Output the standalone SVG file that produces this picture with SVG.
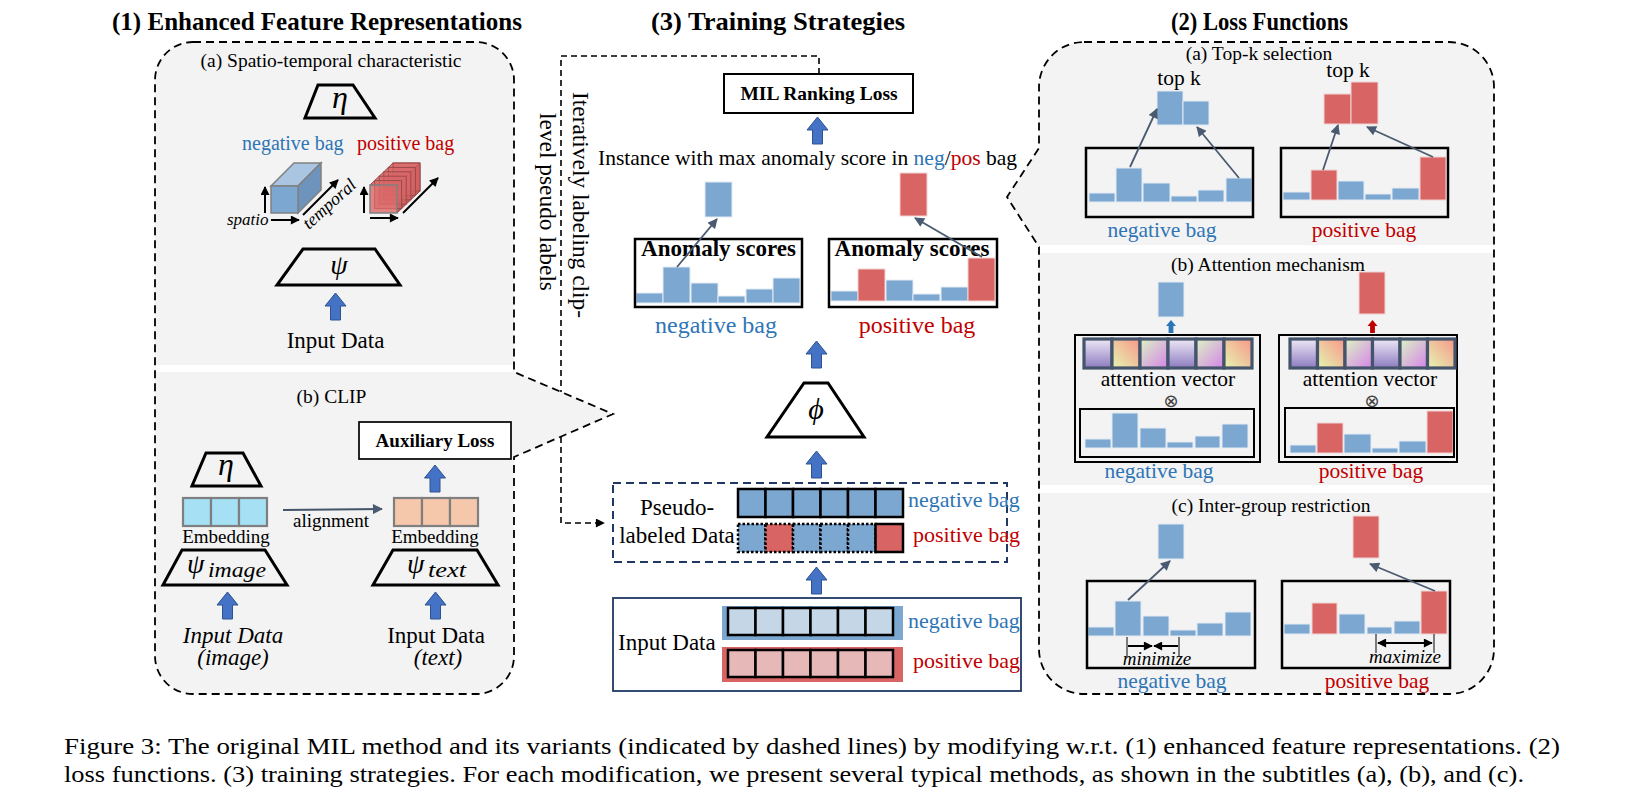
<svg xmlns="http://www.w3.org/2000/svg" width="1626" height="801" viewBox="0 0 1626 801">
<defs>
<style>
text{font-family:'Liberation Serif','Times New Roman','DejaVu Serif',serif;fill:#000}
.b{font-weight:bold}
.i{font-style:italic}
.neg{fill:#2e75b6}
.pos{fill:#c00000}
.bb{fill:#7ba7d0;stroke:#e3ebf4;stroke-width:1}
.br{fill:#d96464;stroke:#f2d4d4;stroke-width:1}
.box{fill:none;stroke:#000;stroke-width:2.5}
.trap{fill:none;stroke:#000;stroke-width:3}
.panel{fill:#f3f3f3}
.dash{fill:none;stroke:#000;stroke-width:1.8;stroke-dasharray:8 5}
.sep{fill:#fff}
.thin{stroke:#4a5a70;stroke-width:1.8;fill:none}
.ax{stroke:#000;stroke-width:2;fill:none}
.att{stroke:#44546a;stroke-width:3.2}
.cell{stroke:#000;stroke-width:2.5}
.emb{stroke:#7f7f7f;stroke-width:2.2}
.sub{font-size:19.5px}
.otimes{font-family:'DejaVu Sans',sans-serif;fill:#404040}
</style>
<marker id="as" viewBox="0 0 10 10" refX="9" refY="5" markerWidth="11" markerHeight="10" markerUnits="userSpaceOnUse" orient="auto"><path d="M0,0 L10,5 L0,10 z" fill="#4a5a70"/></marker>
<marker id="ak" viewBox="0 0 10 10" refX="9" refY="5" markerWidth="10" markerHeight="9" markerUnits="userSpaceOnUse" orient="auto"><path d="M0,0 L10,5 L0,10 z" fill="#000"/></marker>
<marker id="ak2" viewBox="0 0 10 10" refX="1" refY="5" markerWidth="10" markerHeight="9" markerUnits="userSpaceOnUse" orient="auto"><path d="M10,0 L0,5 L10,10 z" fill="#000"/></marker>
<path id="up" d="M0,0 L10.5,13 L5,13 L5,27 L-5,27 L-5,13 L-10.5,13 Z" fill="#4472c4" stroke="#2f528f" stroke-width="1"/>
<linearGradient id="gPur" x1="0" y1="0" x2="0" y2="1"><stop offset="0" stop-color="#eee8f6"/><stop offset="1" stop-color="#8d7cc0"/></linearGradient>
<linearGradient id="gPea" x1="0" y1="1" x2="1" y2="0"><stop offset="0" stop-color="#e4f6b0"/><stop offset="1" stop-color="#f8968a"/></linearGradient>
<linearGradient id="gMag" x1="0" y1="0" x2="1" y2="1"><stop offset="0" stop-color="#dcf4c4"/><stop offset="1" stop-color="#d584e8"/></linearGradient>
</defs>
<rect width="1626" height="801" fill="#fff"/>

<!-- titles -->
<g id="titles">
<text class="b" x="112" y="30" font-size="25" textLength="410" lengthAdjust="spacingAndGlyphs">(1) Enhanced Feature Representations</text>
<text class="b" x="651" y="30" font-size="25" textLength="254" lengthAdjust="spacingAndGlyphs">(3) Training Strategies</text>
<text class="b" x="1171" y="30" font-size="25" textLength="177" lengthAdjust="spacingAndGlyphs">(2) Loss Functions</text>
</g>

<!-- left panel -->
<g id="panel-feature">
<path class="panel" d="M193,42 H476 A38,38 0 0 1 514,80 V372 L613,414 L514,457 V656 A38,38 0 0 1 476,694 H193 A38,38 0 0 1 155,656 V80 A38,38 0 0 1 193,42 Z"/>
<rect class="sep" x="156" y="365" width="357" height="7"/>
<path class="dash" d="M193,42 H476 A38,38 0 0 1 514,80 V372 L613,414 L514,457 V656 A38,38 0 0 1 476,694 H193 A38,38 0 0 1 155,656 V80 A38,38 0 0 1 193,42 Z"/>
</g>

<!-- right panel -->
<g id="panel-loss">
<path class="panel" d="M1084,42 H1449 A45,45 0 0 1 1494,87 V649 A45,45 0 0 1 1449,694 H1084 A45,45 0 0 1 1039,649 V247 L1007,197 L1039,148 V87 A45,45 0 0 1 1084,42 Z"/>
<rect class="sep" x="1040" y="245" width="453" height="8"/>
<rect class="sep" x="1040" y="485" width="453" height="8"/>
<path class="dash" d="M1084,42 H1449 A45,45 0 0 1 1494,87 V649 A45,45 0 0 1 1449,694 H1084 A45,45 0 0 1 1039,649 V247 L1007,197 L1039,148 V87 A45,45 0 0 1 1084,42 Z"/>
</g>

<!-- (a) spatio-temporal -->
<g id="spatio-temporal">
<text class="sub" x="331" y="67" text-anchor="middle">(a) Spatio-temporal characteristic</text>
<polygon class="trap" points="318,85 353,85 375,118 305,118"/>
<text class="i" x="340" y="108" font-size="32" text-anchor="middle">η</text>
<text class="neg" x="242" y="150" font-size="20">negative bag</text>
<text class="pos" x="357" y="150" font-size="20">positive bag</text>
<g stroke="#808080" stroke-width="1.5">
<polygon points="271,186 298,186 321,163 294,163" fill="#a9c5e2"/>
<polygon points="298,186 321,163 321,190 298,213" fill="#6e93bd"/>
<rect x="271" y="186" width="27" height="27" fill="#7ba7d0"/>
</g>
<g stroke="#9a4a4a" stroke-width="1">
<polygon points="370,185 397,185 420,163 393,163" fill="#e07a7a"/>
<polygon points="397,185 420,163 420,191 397,213" fill="#c85858"/>
<rect x="393" y="163" width="27" height="28" fill="#d96666" fill-opacity="0.6"/>
<rect x="388.4" y="167.4" width="27" height="28" fill="#d96666" fill-opacity="0.6"/>
<rect x="383.8" y="171.8" width="27" height="28" fill="#d96666" fill-opacity="0.6"/>
<rect x="379.2" y="176.2" width="27" height="28" fill="#d96666" fill-opacity="0.6"/>
<rect x="374.6" y="180.6" width="27" height="28" fill="#d96666" fill-opacity="0.6"/>
<rect x="370" y="185" width="27" height="28" fill="#d96666" fill-opacity="0.8" stroke="#808080" stroke-width="1.5"/>
</g>
<line class="ax" x1="265" y1="213" x2="265" y2="187" marker-end="url(#ak)"/>
<line class="ax" x1="271" y1="220" x2="299" y2="220" marker-end="url(#ak)"/>
<line class="ax" x1="303" y1="215" x2="338" y2="180" marker-end="url(#ak)"/>
<line class="ax" x1="364" y1="213" x2="364" y2="187" marker-end="url(#ak)"/>
<line class="ax" x1="370" y1="218" x2="398" y2="218" marker-end="url(#ak)"/>
<line class="ax" x1="403" y1="213" x2="438" y2="178" marker-end="url(#ak)"/>
<text class="i" x="227" y="225" font-size="17">spatio</text>
<text class="i" x="309" y="230" font-size="18" transform="rotate(-42 309 230)">temporal</text>
<polygon class="trap" points="303,249 375,249 400,285 277,285"/>
<text class="i" x="339" y="274" font-size="28" text-anchor="middle">ψ</text>
<text x="335.5" y="348" font-size="23" text-anchor="middle">Input Data</text>
</g>

<!-- (b) CLIP -->
<g id="clip">
<text class="sub" x="331.5" y="403" text-anchor="middle">(b) CLIP</text>
<polygon class="trap" points="206,453 243,453 261,486 192,486"/>
<text class="i" x="226" y="475" font-size="32" text-anchor="middle">η</text>
<g class="emb" fill="#a6e0f4">
<rect x="183" y="498" width="28" height="28"/><rect x="211" y="498" width="28" height="28"/><rect x="239" y="498" width="28" height="28"/>
</g>
<text x="226" y="543" font-size="19" text-anchor="middle">Embedding</text>
<polygon class="trap" points="182,550 265,550 287,585 163,585"/>
<text class="i" x="187" y="573" font-size="28">ψ</text>
<text class="i" x="208" y="577" font-size="22" textLength="58" lengthAdjust="spacingAndGlyphs">image</text>
<text class="i" x="233" y="643" font-size="23" text-anchor="middle">Input Data</text>
<text class="i" x="233" y="665" font-size="23" text-anchor="middle">(image)</text>
<text x="331" y="527" font-size="19" text-anchor="middle">alignment</text>
<g class="emb" fill="#f6c8ab">
<rect x="394" y="498" width="28" height="28"/><rect x="422" y="498" width="28" height="28"/><rect x="450" y="498" width="28" height="28"/>
</g>
<text x="435" y="543" font-size="19" text-anchor="middle">Embedding</text>
<polygon class="trap" points="393,550 477,550 498,585 373,585"/>
<text class="i" x="407" y="573" font-size="28">ψ</text>
<text class="i" x="428" y="577" font-size="22" textLength="38" lengthAdjust="spacingAndGlyphs">text</text>
<text x="436" y="643" font-size="23" text-anchor="middle">Input Data</text>
<text class="i" x="438" y="665" font-size="23" text-anchor="middle">(text)</text>
</g>

<g id="aux-loss">
<rect x="359" y="422" width="152" height="37" fill="#fff" stroke="#000" stroke-width="1.7"/>
<text class="b" x="435" y="447" font-size="19" text-anchor="middle">Auxiliary Loss</text>
</g>

<!-- middle -->
<g id="feedback-label">
<text font-size="23.4" transform="translate(573,92) rotate(90)">Iteratively labeling clip-</text>
<text font-size="23.4" transform="translate(540,113) rotate(90)">level pseudo labels</text>
</g>

<g id="mil-loss">
<rect x="724" y="74" width="189" height="39" fill="#fff" stroke="#000" stroke-width="2"/>
<text class="b" x="819" y="100" font-size="19.5" text-anchor="middle">MIL Ranking Loss</text>
</g>

<g id="instance-max">
<text x="598" y="165" font-size="21.5" textLength="419" lengthAdjust="spacingAndGlyphs">Instance with max anomaly score in <tspan class="neg">neg</tspan>/<tspan class="pos">pos</tspan> bag</text>
<rect class="bb" x="705" y="182" width="27" height="35"/>
<rect class="br" x="900" y="173" width="27" height="43"/>
</g>

<g id="anomaly-neg">
<rect class="bb" x="636" y="293" width="27" height="10"/>
<rect class="bb" x="663" y="267" width="27" height="36"/>
<rect class="bb" x="691" y="283" width="27" height="20"/>
<rect class="bb" x="718" y="296" width="27" height="7"/>
<rect class="bb" x="746" y="289" width="27" height="14"/>
<rect class="bb" x="773" y="278" width="27" height="25"/>
<rect class="box" x="635" y="239" width="167" height="68"/>
<text class="b" x="718.5" y="256" font-size="23" text-anchor="middle">Anomaly scores</text>
<text class="neg" x="716" y="333" font-size="24" text-anchor="middle">negative bag</text>
</g>

<g id="anomaly-pos">
<rect class="bb" x="831" y="291" width="27" height="10"/>
<rect class="br" x="858" y="269" width="27" height="32"/>
<rect class="bb" x="886" y="280" width="27" height="21"/>
<rect class="bb" x="913" y="294" width="27" height="7"/>
<rect class="bb" x="941" y="287" width="27" height="14"/>
<rect class="br" x="968" y="258" width="27" height="43"/>
<rect class="box" x="829" y="239" width="168" height="68"/>
<text class="b" x="912" y="256" font-size="23" text-anchor="middle">Anomaly scores</text>
<text class="pos" x="917" y="333" font-size="24" text-anchor="middle">positive bag</text>
</g>

<g id="phi">
<polygon class="trap" points="804,383 828,383 864,437 767,437"/>
<text class="i" x="816" y="419" font-size="30" text-anchor="middle">ϕ</text>
</g>

<g id="pseudo-labeled">
<rect x="613" y="483" width="394" height="79" fill="none" stroke="#1f3864" stroke-width="2" stroke-dasharray="8 5"/>
<text x="677" y="515" font-size="23" text-anchor="middle">Pseudo-</text>
<text x="677" y="543" font-size="23" text-anchor="middle">labeled Data</text>
<g class="cell" fill="#7ba7d0">
<rect x="738" y="489" width="27.5" height="28"/><rect x="765.5" y="489" width="27.5" height="28"/><rect x="793" y="489" width="27.5" height="28"/><rect x="820.5" y="489" width="27.5" height="28"/><rect x="848" y="489" width="27.5" height="28"/><rect x="875.5" y="489" width="27.5" height="28"/>
</g>
<g class="cell" stroke-dasharray="2.5 2">
<rect x="738" y="524" width="27.5" height="28" fill="#7ba7d0"/><rect x="765.5" y="524" width="27.5" height="28" fill="#d96464"/><rect x="793" y="524" width="27.5" height="28" fill="#7ba7d0"/><rect x="820.5" y="524" width="27.5" height="28" fill="#7ba7d0"/><rect x="848" y="524" width="27.5" height="28" fill="#7ba7d0"/>
</g>
<rect class="cell" x="875.5" y="524" width="27.5" height="28" fill="#d96464"/>
<text class="neg" x="908" y="507" font-size="22">negative bag</text>
<text class="pos" x="913" y="542" font-size="22">positive bag</text>
</g>

<g id="input-data">
<rect x="613" y="598" width="408" height="93" fill="none" stroke="#1f3864" stroke-width="1.8"/>
<text x="618" y="650" font-size="23">Input Data</text>
<rect x="722" y="606" width="181" height="34" fill="#7ba7d0"/>
<rect x="722" y="647" width="181" height="35" fill="#d96464"/>
<g class="cell" fill="#c5d6e7">
<rect x="728" y="608" width="27.5" height="27"/><rect x="755.5" y="608" width="27.5" height="27"/><rect x="783" y="608" width="27.5" height="27"/><rect x="810.5" y="608" width="27.5" height="27"/><rect x="838" y="608" width="27.5" height="27"/><rect x="865.5" y="608" width="27.5" height="27"/>
</g>
<g class="cell" fill="#e6b8b8">
<rect x="728" y="650" width="27.5" height="27"/><rect x="755.5" y="650" width="27.5" height="27"/><rect x="783" y="650" width="27.5" height="27"/><rect x="810.5" y="650" width="27.5" height="27"/><rect x="838" y="650" width="27.5" height="27"/><rect x="865.5" y="650" width="27.5" height="27"/>
</g>
<text class="neg" x="908" y="628" font-size="22">negative bag</text>
<text class="pos" x="913" y="668" font-size="22">positive bag</text>
</g>

<!-- (a) top-k -->
<g id="topk">
<text class="sub" x="1259" y="60" text-anchor="middle">(a) Top-k selection</text>
<text x="1179" y="85" font-size="21.5" text-anchor="middle">top k</text>
<text x="1348" y="77" font-size="21.5" text-anchor="middle">top k</text>
<rect class="bb" x="1157" y="91" width="26" height="34"/>
<rect class="bb" x="1183" y="101" width="26" height="24"/>
<rect class="br" x="1324" y="94" width="27" height="30"/>
<rect class="br" x="1351" y="82" width="27" height="42"/>
<rect class="bb" x="1089" y="193" width="26" height="9"/>
<rect class="bb" x="1116" y="168" width="26" height="34"/>
<rect class="bb" x="1143" y="183" width="27" height="19"/>
<rect class="bb" x="1171" y="196" width="26" height="6"/>
<rect class="bb" x="1198" y="190" width="26" height="12"/>
<rect class="bb" x="1226" y="178" width="26" height="24"/>
<rect class="box" x="1086" y="148" width="167" height="69"/>
<rect class="bb" x="1283" y="192" width="27" height="8"/>
<rect class="br" x="1311" y="170" width="26" height="30"/>
<rect class="bb" x="1338" y="181" width="26" height="19"/>
<rect class="bb" x="1365" y="194" width="26" height="6"/>
<rect class="bb" x="1392" y="188" width="27" height="12"/>
<rect class="br" x="1420" y="157" width="26" height="43"/>
<rect class="box" x="1281" y="148" width="167" height="69"/>
<text class="neg" x="1162" y="237" font-size="21.5" text-anchor="middle">negative bag</text>
<text class="pos" x="1364" y="237" font-size="21.5" text-anchor="middle">positive bag</text>
</g>

<!-- (b) attention -->
<g id="attention">
<text class="sub" x="1268" y="271" text-anchor="middle">(b) Attention mechanism</text>
<rect class="bb" x="1158" y="282" width="26" height="35"/>
<rect class="br" x="1359" y="272" width="26" height="42"/>
<path d="M1171,320 l5,6 h-2.6 v7 h-4.8 v-7 h-2.6 z" fill="#2e75b6"/>
<path d="M1372.5,320 l5,6 h-2.6 v7 h-4.8 v-7 h-2.6 z" fill="#c00000"/>
<rect x="1075" y="335" width="185" height="127" fill="none" stroke="#000" stroke-width="2"/>
<g class="att">
<rect x="1084" y="339" width="28" height="29" fill="url(#gPur)"/><rect x="1112" y="339" width="28" height="29" fill="url(#gPea)"/><rect x="1140" y="339" width="28" height="29" fill="url(#gMag)"/><rect x="1168" y="339" width="28" height="29" fill="url(#gPur)"/><rect x="1196" y="339" width="28" height="29" fill="url(#gMag)"/><rect x="1224" y="339" width="28" height="29" fill="url(#gPea)"/>
</g>
<text x="1168" y="386" font-size="21.5" text-anchor="middle">attention vector</text>
<text class="otimes" x="1171" y="407" font-size="18" text-anchor="middle">⊗</text>
<rect class="bb" x="1085" y="439" width="26" height="9"/>
<rect class="bb" x="1112" y="413" width="26" height="35"/>
<rect class="bb" x="1140" y="428" width="26" height="20"/>
<rect class="bb" x="1167" y="442" width="26" height="6"/>
<rect class="bb" x="1195" y="436" width="25" height="12"/>
<rect class="bb" x="1222" y="424" width="26" height="24"/>
<rect x="1080" y="409" width="174" height="48" fill="none" stroke="#000" stroke-width="2"/>
<rect x="1279" y="335" width="178" height="127" fill="none" stroke="#000" stroke-width="2"/>
<g class="att">
<rect x="1290" y="339" width="27.5" height="29" fill="url(#gPur)"/><rect x="1317.5" y="339" width="27.5" height="29" fill="url(#gPea)"/><rect x="1345" y="339" width="27.5" height="29" fill="url(#gMag)"/><rect x="1372.5" y="339" width="27.5" height="29" fill="url(#gPur)"/><rect x="1400" y="339" width="27.5" height="29" fill="url(#gMag)"/><rect x="1427.5" y="339" width="27.5" height="29" fill="url(#gPea)"/>
</g>
<text x="1370" y="386" font-size="21.5" text-anchor="middle">attention vector</text>
<text class="otimes" x="1372" y="407" font-size="18" text-anchor="middle">⊗</text>
<rect class="bb" x="1290" y="445" width="26" height="8"/>
<rect class="br" x="1317" y="423" width="26" height="30"/>
<rect class="bb" x="1344" y="434" width="27" height="19"/>
<rect class="bb" x="1372" y="448" width="26" height="5"/>
<rect class="bb" x="1399" y="441" width="27" height="12"/>
<rect class="br" x="1427" y="411" width="26" height="42"/>
<rect x="1285" y="408" width="169" height="49" fill="none" stroke="#000" stroke-width="2"/>
<text class="neg" x="1159" y="478" font-size="21.5" text-anchor="middle">negative bag</text>
<text class="pos" x="1371" y="478" font-size="21.5" text-anchor="middle">positive bag</text>
</g>

<!-- (c) inter-group -->
<g id="inter-group">
<text class="sub" x="1271" y="512" text-anchor="middle">(c) Inter-group restriction</text>
<rect class="bb" x="1158" y="524" width="26" height="35"/>
<rect class="br" x="1353" y="516" width="26" height="42"/>
<rect class="bb" x="1088" y="627" width="26" height="9"/>
<rect class="bb" x="1115" y="601" width="26" height="35"/>
<rect class="bb" x="1143" y="616" width="26" height="20"/>
<rect class="bb" x="1170" y="630" width="26" height="6"/>
<rect class="bb" x="1197" y="623" width="26" height="13"/>
<rect class="bb" x="1225" y="612" width="26" height="24"/>
<rect class="box" x="1087" y="581" width="168" height="87"/>
<line x1="1127" y1="637" x2="1127" y2="657" stroke="#555" stroke-width="1.5"/>
<line x1="1179" y1="637" x2="1179" y2="657" stroke="#555" stroke-width="1.5"/>
<line class="ax" x1="1128" y1="646" x2="1152" y2="646" marker-end="url(#ak)"/>
<line class="ax" x1="1178" y1="646" x2="1154" y2="646" marker-end="url(#ak)"/>
<text class="i" x="1157" y="665" font-size="19" text-anchor="middle">minimize</text>
<rect class="bb" x="1284" y="624" width="26" height="10"/>
<rect class="br" x="1312" y="603" width="25" height="31"/>
<rect class="bb" x="1339" y="614" width="26" height="20"/>
<rect class="bb" x="1367" y="627" width="25" height="7"/>
<rect class="bb" x="1394" y="621" width="26" height="13"/>
<rect class="br" x="1421" y="591" width="26" height="43"/>
<rect class="box" x="1282" y="581" width="168" height="87"/>
<line x1="1376" y1="634" x2="1376" y2="653" stroke="#555" stroke-width="1.5"/>
<line x1="1434" y1="634" x2="1434" y2="653" stroke="#555" stroke-width="1.5"/>
<line class="ax" x1="1378" y1="643" x2="1432" y2="643" marker-start="url(#ak2)" marker-end="url(#ak)"/>
<text class="i" x="1405" y="663" font-size="19" text-anchor="middle">maximize</text>
<text class="neg" x="1172" y="688" font-size="21.5" text-anchor="middle">negative bag</text>
<text class="pos" x="1377" y="688" font-size="21.5" text-anchor="middle">positive bag</text>
</g>

<!-- connectors -->
<g id="connectors">
<path d="M819,74 V56 H561 V392" fill="none" stroke="#000" stroke-width="1.6" stroke-dasharray="6 4"/>
<path d="M561,437 V523 H604" fill="none" stroke="#000" stroke-width="1.6" stroke-dasharray="6 4" marker-end="url(#ak)"/>
<line x1="283" y1="510" x2="382" y2="509" stroke="#44546a" stroke-width="2" marker-end="url(#as)"/>
<use href="#up" x="335.5" y="293"/>
<use href="#up" x="227.5" y="592"/>
<use href="#up" x="435.5" y="592"/>
<use href="#up" x="435" y="465"/>
<use href="#up" x="817.5" y="117"/>
<use href="#up" x="816.5" y="341"/>
<use href="#up" x="816.5" y="451"/>
<use href="#up" x="816.5" y="567"/>
<line class="thin" x1="677" y1="267" x2="717" y2="219" marker-end="url(#as)"/>
<line class="thin" x1="982" y1="257" x2="915" y2="218" marker-end="url(#as)"/>
<line class="thin" x1="1130" y1="167" x2="1157" y2="109" marker-end="url(#as)"/>
<line class="thin" x1="1239" y1="178" x2="1197" y2="127" marker-end="url(#as)"/>
<line class="thin" x1="1323" y1="170" x2="1338" y2="125" marker-end="url(#as)"/>
<line class="thin" x1="1433" y1="157" x2="1367" y2="127" marker-end="url(#as)"/>
<line class="thin" x1="1128" y1="600" x2="1170" y2="561" marker-end="url(#as)"/>
<line class="thin" x1="1435" y1="591" x2="1370" y2="564" marker-end="url(#as)"/>
</g>

<!-- caption -->
<g id="caption">
<text x="64" y="754" font-size="23.5" textLength="1496" lengthAdjust="spacingAndGlyphs">Figure 3: The original MIL method and its variants (indicated by dashed lines) by modifying w.r.t. (1) enhanced feature representations. (2)</text>
<text x="64" y="782" font-size="23.5" textLength="1460" lengthAdjust="spacingAndGlyphs">loss functions. (3) training strategies. For each modification, we present several typical methods, as shown in the subtitles (a), (b), and (c).</text>
</g>
</svg>
